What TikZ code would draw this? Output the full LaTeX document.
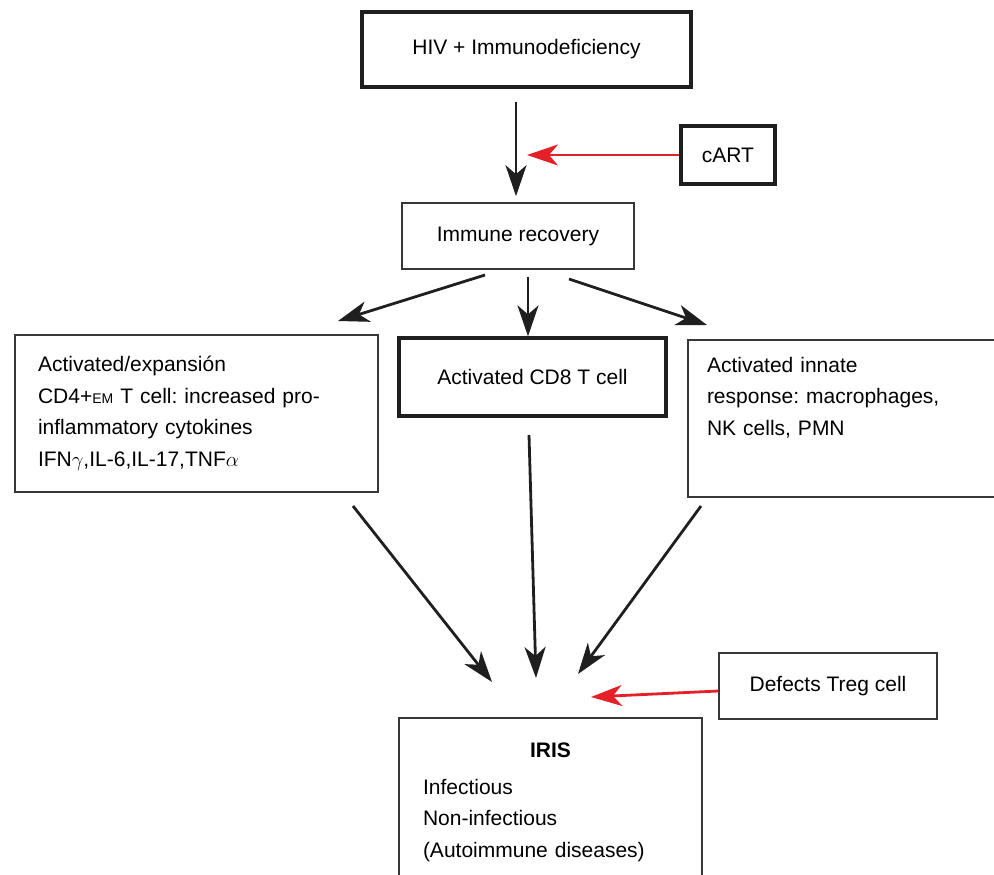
\documentclass[tikz,border=0pt]{standalone}
\usepackage{fontspec}
\setmainfont{Liberation Sans}
\frenchspacing
\usetikzlibrary{arrows.meta}
\definecolor{artred}{RGB}{228,32,40}
\definecolor{boxgray}{RGB}{55,55,55}

\begin{document}
\begin{tikzpicture}[x=1pt,y=-1pt]
\tikzset{box/.style = {draw=boxgray,line width=1.6pt,inner sep=0pt,font=\fontsize{21}{31.5}\selectfont}}
\tikzset{thickbox/.style = {box,draw=black!88,line width=3.2pt}}
\tikzset{edge/.style = {-{Stealth[length=31pt,width=21pt,inset=9pt]},line width=2.8pt,draw=black!88,fill=black!88}}
\tikzset{redge/.style = {edge,draw=artred,fill=artred}}

\clip (0,0) rectangle (994,875);

\node[thickbox,minimum width=329pt,minimum height=75pt] (hiv) at (526.5,49.5) {HIV + Immunodeficiency};
\node[thickbox,minimum width=94pt,minimum height=58pt] (cart) at (728,155) {cART};
\node[box,minimum width=232pt,minimum height=66pt] (recov) at (518,236) {Immune recovery};
\node[box,minimum width=363pt,minimum height=157pt,text width=317pt,align=left] (cdfour) at (196.5,413.5)
  {Activated/expansión\\CD4+{\fontsize{14}{14}\selectfont EM} T cell: increased pro-\\inflammatory cytokines\\IFN$\gamma$,IL-6,IL-17,TNF$\alpha$};
\node[thickbox,minimum width=267pt,minimum height=78pt] (cdeight) at (532.5,377) {Activated CD8 T cell};
\node[box,minimum width=322pt,minimum height=157pt,text width=284pt,align=left] (innate) at (849,418.5)
  {Activated innate\\response: macrophages,\\NK cells, PMN\\[13pt]\mbox{}};
\node[box,minimum width=218pt,minimum height=66pt] (treg) at (828,686) {Defects Treg cell};
\node[box,minimum width=303pt,minimum height=168pt,text width=255pt,align=left] (iris) at (550.5,802)
  {\makebox[255pt]{\bfseries IRIS}\\[5.5pt]Infectious\\Non-infectious\\(Autoimmune diseases)};

\coordinate (recovleft) at (485,275);
\coordinate (cdfourin) at (338,321);
\coordinate (recovright) at (569,279);
\coordinate (innatein) at (707,325);
\coordinate (cdfourout) at (353,506);
\coordinate (irisleft) at (492,682);
\coordinate (cdeightout) at (529,435);
\coordinate (irismid) at (536,678);
\coordinate (innateout) at (701,506);
\coordinate (irisright) at (578,674);
\coordinate (cartin) at (527,155);
\coordinate (irisred) at (591,697);

\draw[edge,shorten <=13pt,shorten >=6pt] ([xshift=-10.5pt]hiv.south) to ([xshift=-2pt]recov.north);
\draw[redge] (cart.west) to (cartin);
\draw[edge] (recovleft) to (cdfourin);
\draw[edge,shorten <=7pt] ([xshift=10pt]recov.south) to ([xshift=-4.5pt]cdeight.north);
\draw[edge] (recovright) to (innatein);
\draw[edge] (cdfourout) to (irisleft);
\draw[edge] (cdeightout) to (irismid);
\draw[edge] (innateout) to (irisright);
\draw[redge] ([yshift=-5pt]treg.west) to (irisred);
\end{tikzpicture}
\end{document}
